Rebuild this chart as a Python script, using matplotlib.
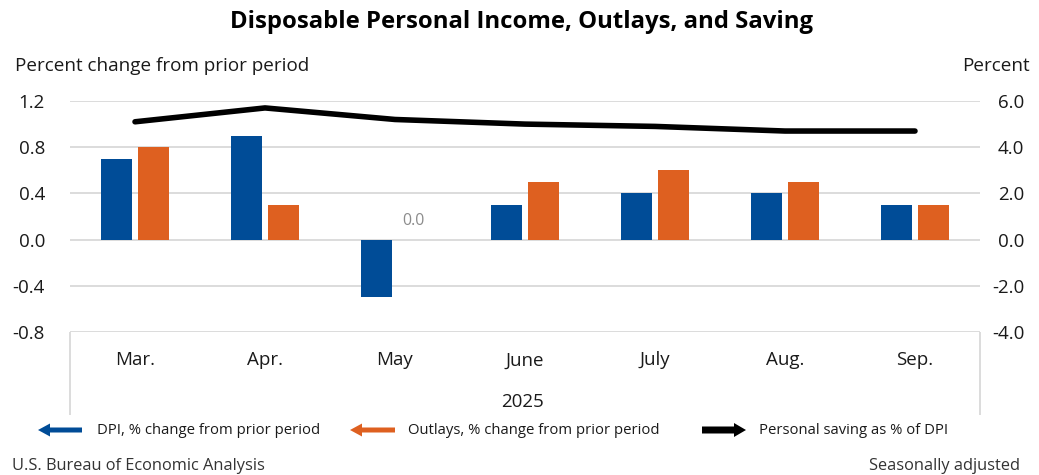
import matplotlib
matplotlib.use("Agg")
import matplotlib.pyplot as plt
import numpy as np
from matplotlib.patches import FancyArrow

plt.rcParams['font.family'] = ['Open Sans', 'DejaVu Sans']

# monthly data, 2025
months = ["Mar.", "Apr.", "May", "June", "July", "Aug.", "Sep."]
dpi_change = [0.7, 0.9, -0.5, 0.3, 0.4, 0.4, 0.3]
outlays_change = [0.8, 0.3, 0.0, 0.5, 0.6, 0.5, 0.3]
saving_rate = [5.1, 5.7, 5.2, 5.0, 4.9, 4.7, 4.7]

left_ticks = [-0.8, -0.4, 0.0, 0.4, 0.8, 1.2]
right_ticks = [-4.0, -2.0, 0.0, 2.0, 4.0, 6.0]

BLUE = "#004C97"
ORANGE = "#DE6020"
GRID = "#D9D9D9"
TXT = "#1A1A1A"

W, H = 1039, 475
fig = plt.figure(figsize=(W / 100, H / 100), dpi=100)

# plot area in pixels: x 70..980, y 101..332
ax = fig.add_axes([70 / W, 1 - 332 / H, 910 / W, 231 / H])
ax2 = ax.twinx()

x = np.arange(len(months))
bw = 0.24
gap = 0.045
ax.bar(x - (bw + gap) / 2, dpi_change, bw, color=BLUE, zorder=3)
ax.bar(x + (bw + gap) / 2, outlays_change, bw, color=ORANGE, zorder=3)

# label for zero-height bar
for i, v in enumerate(outlays_change):
    if v == 0:
        ax.text(x[i] + (bw + gap) / 2, 0.09, f"{v:.1f}", ha="center", va="bottom",
                fontsize=11.5, color="#8C8C8C", zorder=4)

ax2.plot(x, saving_rate, color="black", lw=4, solid_capstyle="round", zorder=4)

ax.set_xlim(-0.5, len(months) - 0.5)
ax.set_ylim(-0.8, 1.2)
ax2.set_ylim(-4.0, 6.0)
ax.set_yticks(left_ticks)
ax.set_yticklabels([f"{t:.1f}" for t in left_ticks])
ax2.set_yticks(right_ticks)
ax2.set_yticklabels([f"{t:.1f}" for t in right_ticks])
for lab in ax2.get_yticklabels():
    lab.set_horizontalalignment("right")

ax.yaxis.grid(True, color=GRID, lw=1.3, zorder=0)
ax.set_axisbelow(True)
for a in (ax, ax2):
    for s in a.spines.values():
        s.set_visible(False)
    a.tick_params(axis="y", length=0, labelsize=13.5, colors=TXT)
# pads in points (1 px = 0.72 pt at 100 dpi)
ax.tick_params(axis="y", pad=18)
ax2.tick_params(axis="y", pad=32)

ax.set_xticks(x)
ax.set_xticklabels(months, fontsize=13.5, color=TXT)
ax.tick_params(axis="x", length=0, pad=14)

# overlay in pixel coordinates for headers, category frame and legend
ov = fig.add_axes([0, 0, 1, 1], zorder=-1)
ov.set_xlim(0, W)
ov.set_ylim(H, 0)
ov.axis("off")
ov.patch.set_alpha(0)

ov.vlines([70, 980], 332, 415, color=GRID, lw=1.3)

ov.text(522, 22, "Disposable Personal Income, Outlays, and Saving", ha="center", va="center",
        fontsize=17.2, fontweight="bold", color="black")
ov.text(15, 66, "Percent change from prior period", ha="left", va="center", fontsize=13.6, color=TXT)
ov.text(1030, 66, "Percent", ha="right", va="center", fontsize=13.6, color=TXT)
ov.text(522, 402, "2025", ha="center", va="center", fontsize=13.5, color=TXT)

# legend with block arrows
def block_arrow(x0, x1, color, width, head_w, head_l):
    ov.add_patch(FancyArrow(x0, 430, x1 - x0, 0, width=width, head_width=head_w,
                            head_length=head_l, length_includes_head=True,
                            color=color, lw=0))

block_arrow(82, 38, BLUE, 5, 13, 12)
block_arrow(395, 350, ORANGE, 5, 13, 12)
block_arrow(702, 746, "black", 7, 14, 12)
ov.text(97, 430, "DPI, % change from prior period", ha="left", va="center", fontsize=10.7, color=TXT)
ov.text(408, 430, "Outlays, % change from prior period", ha="left", va="center", fontsize=10.7, color=TXT)
ov.text(759, 430, "Personal saving as % of DPI", ha="left", va="center", fontsize=10.7, color=TXT)

ov.text(12, 466, "U.S. Bureau of Economic Analysis", ha="left", va="center", fontsize=11.8, color="#333333")
ov.text(1020, 466, "Seasonally adjusted", ha="right", va="center", fontsize=11.8, color="#333333")

fig.savefig("out.png", dpi=100)
